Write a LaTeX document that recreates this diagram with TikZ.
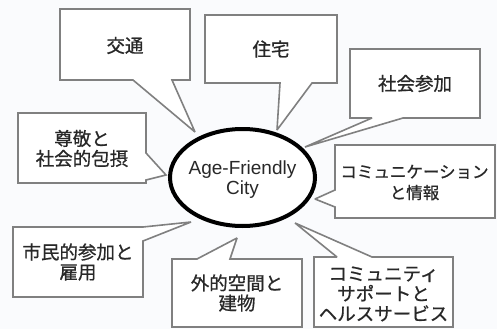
\documentclass[tikz,border=0pt]{standalone}
\usepackage{fontspec}
\setsansfont{Liberation Sans}
\newfontfamily\jpfont[FakeBold=0.8]{Noto Sans CJK JP}
\usepackage{tikz}
\usetikzlibrary{shapes,calc}
\definecolor{boxGray}{RGB}{128,128,128}
\definecolor{txtGray}{RGB}{40,40,40}
\definecolor{bgPaper}{RGB}{250,251,253}
\tikzstyle{bubble}=[draw=boxGray, fill=white, line width=1.6pt, line join=miter, miter limit=2]
\tikzstyle{bubbleText}=[text=txtGray, align=center, inner sep=0pt, font=\jpfont\fontsize{18.5}{20}\selectfont]
\tikzstyle{smallText}=[bubbleText, font=\jpfont\fontsize{16.5}{21}\selectfont]
\tikzstyle{cityE}=[ellipse, draw=black, fill=white, line width=4pt, minimum width=145pt, minimum height=97pt, inner sep=0pt]
\tikzstyle{cityText}=[text=txtGray, align=center, inner sep=0pt, font=\sffamily\fontsize{19}{20}\selectfont]

\begin{document}
\begin{tikzpicture}[x=1pt, y=-1pt]
      \fill[bgPaper] (0,0) rectangle (497,329);
      \useasboundingbox (0,0) rectangle (497,329);
      %%%%%%%%%%%% tips on the ellipse
      \coordinate (t1) at (195,132);
      \coordinate (t2) at (277,130);
      \coordinate (t3) at (305,147);
      \coordinate (t4) at (315,199);
      \coordinate (t5) at (295,223);
      \coordinate (t6) at (237,238);
      \coordinate (t7) at (191,222);
      \coordinate (t8) at (166,175);
      %%%%%%%%%%%% callouts
      \draw[bubble] (60,9) -- (190,9) -- (190,80) -- (172,80) -- (t1) -- (133,80) -- (60,80) -- cycle;
      \node(L1) [bubbleText] at (125,45.5){交通};
      \draw[bubble] (205,15) -- (337,15) -- (337,83) -- (312,83) -- (t2) -- (280,83) -- (205,83) -- cycle;
      \node(L2) [bubbleText] at (271,49){住宅};
      \draw[bubble] (350,49) -- (480,49) -- (480,118) -- (403,118) -- (t3) -- (372,118) -- (350,118) -- cycle;
      \node(L3) [bubbleText] at (415,83.5){社会参加};
      \draw[bubble] (335,145) -- (495,145) -- (495,218) -- (335,218) -- (335,207) -- (t4) -- (335,190) -- cycle;
      \node(L4) [smallText] at (414.5,182.5){コミュニケーション\\と情報};
      \draw[bubble] (314,257) -- (337,257) -- (t5) -- (372,257) -- (453,257) -- (453,327) -- (314,327) -- cycle;
      \node(L5) [bubbleText] at (383.5,294){コミュニティ\\サポートと\\ヘルスサービス};
      \draw[bubble] (172,259) -- (197,259) -- (t6) -- (230,259) -- (302,259) -- (302,327) -- (172,327) -- cycle;
      \node(L6) [bubbleText] at (237,293){外的空間と\\建物};
      \draw[bubble] (13,227) -- (143,227) -- (t7) -- (143,241) -- (143,297) -- (13,297) -- cycle;
      \node(L7) [bubbleText] at (78,262){市民的参加と\\雇用};
      \draw[bubble] (18,113) -- (146,113) -- (146,153) -- (t8) -- (146,180) -- (146,183) -- (18,183) -- cycle;
      \node(L8) [bubbleText] at (82,148.5){尊敬と\\社会的包摂};
      %%%%%%%%%%%% centre
      \node(0) [cityE] at (242.5,177.5){};
      \node(C) [cityText] at (242.5,180){Age-Friendly\\City};
\end{tikzpicture}
\end{document}
